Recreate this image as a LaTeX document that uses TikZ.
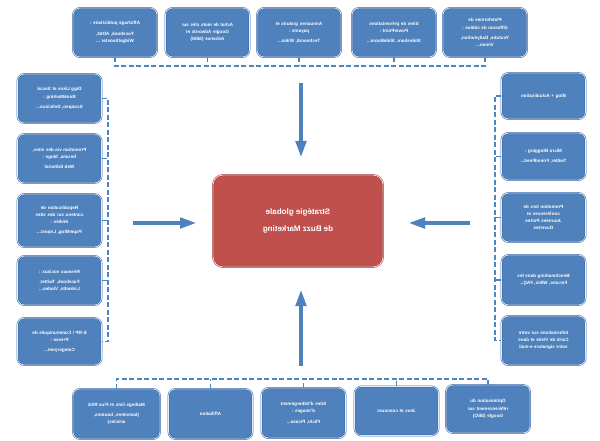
\documentclass[tikz,border=0pt]{standalone}
\usepackage{fontspec}
\setmainfont{Liberation Sans}
\usetikzlibrary{arrows.meta}
\definecolor{boxblue}{HTML}{4F81BD}
\definecolor{boxedge}{HTML}{3A6AA8}
\definecolor{busblue}{HTML}{4A86C0}
\definecolor{redbox}{HTML}{C0504D}
\definecolor{rededge}{HTML}{A8403D}
\tikzset{
  sbox/.style={draw=boxedge, line width=0.5pt, double=white!85!boxblue, double distance=0.7pt,
    fill=boxblue, rounded corners=7pt, minimum width=#1, text width=70pt, align=center,
    text=white, font=\fontsize{4.6}{7.2}\selectfont\bfseries, xscale=-1, inner sep=2pt},
  sbox/.default=84pt,
  bus/.style={draw=busblue, line width=1.1pt, dash pattern=on 5pt off 2.5pt},
  bigarrow/.style={draw=boxblue, line width=4.5pt, -{Triangle[width=10pt,length=17pt]}}
}
\begin{document}
\begin{tikzpicture}[x=1pt,y=-1pt]
\useasboundingbox (0,0) rectangle (600,441);
% top row
\node[sbox, minimum height=49pt] (t1) at (115,32.5) {Affichage publicitaire :\\[3pt]Facebook, AD62,\\Widgetbooster ...};
\node[sbox, minimum height=49pt] (t2) at (207.5,32.5) {Achat de mots clés sur\\Google Adwords et\\Adsense (SEM)};
\node[sbox, minimum height=49pt] (t3) at (299,32.5) {Annuaires gratuits et\\payants :\\[3pt]Technorati, Wikio...};
\node[sbox, minimum height=49pt] (t4) at (394,32.5) {Sites de présentations\\PowerPoint :\\[3pt]Slideshare, SlideBoom...};
\node[sbox, minimum height=49pt] (t5) at (485,32.5) {Plateformes de\\diffusion de vidéos :\\[3pt]Youtube, Dailymotion,\\Vimeo...};
% left column
\node[sbox, minimum height=49pt] (l1) at (59.5,98.5) {Digg Likes et Social\\BookMarking :\\[3pt]Scoopeo, Delicious...};
\node[sbox, minimum height=49pt] (l2) at (59.5,158.5) {Promotion via des sites,\\forums, blogs :\\[3pt]Web Editorial};
\node[sbox, minimum height=53pt] (l3) at (59.5,220.5) {Republication de\\contenu sur des sites\\dédiés :\\[3pt]PaperBlog, Lepost...};
\node[sbox, minimum height=49pt] (l4) at (59.5,280.5) {Réseaux sociaux :\\[3pt]Facebook, Twitter,\\LinkedIn, Viadeo...};
\node[sbox, minimum height=47pt] (l5) at (59.5,341.5) {E-RP / Communiqués de\\Presse :\\[3pt]Categorynet...};
% right column
\node[sbox, minimum height=46pt] (r1) at (543.5,96) {Blog + Actualisation};
\node[sbox, minimum height=47pt] (r2) at (543.5,156.5) {Micro Blogging :\\[3pt]Twitter, FriendFeed...};
\node[sbox, minimum height=49pt] (r3) at (543.5,217.5) {Promotion lors de\\conférences et\\Journées Portes\\Ouvertes};
\node[sbox, minimum height=50pt] (r4) at (543.5,280) {Benchmarking dans les\\Forums, Wikis, FAQ...};
\node[sbox, minimum height=49pt] (r5) at (543.5,340.5) {Informations sur votre\\Carte de Visite et dans\\votre signature e-mail};
% bottom row
\node[sbox=87pt, minimum height=50pt] (b1) at (116.5,414) {Mailings lists et Flux RSS\\[3pt](bannières, boutons,\\articles)};
\node[sbox, minimum height=50pt] (b2) at (210.5,414) {Affiliation};
\node[sbox, minimum height=50pt] (b3) at (303.5,413) {Sites d'hébergement\\d'images :\\[3pt]Flickr, Picasa...};
\node[sbox, minimum height=49pt] (b4) at (396.5,411) {Jeux et concours};
\node[sbox, minimum height=48pt] (b5) at (488,409) {Optimisation du\\référencement sur\\Google (SEO)};
% centre
\node[draw=rededge, line width=0.5pt, double=white!80!redbox, double distance=0.8pt, fill=redbox,
  rounded corners=10pt, minimum width=170pt, minimum height=92pt, align=center, text=white,
  font=\fontsize{8}{17}\selectfont\bfseries, xscale=-1] (c) at (298,221) {Stratégie globale\\de Buzz Marketing};
% buses
\coordinate (topbus) at (0,66);
\coordinate (botbus) at (0,379);
\coordinate (leftbus) at (108,0);
\coordinate (rightbus) at (495,0);
\draw[bus] (t1.south) -- (t1.south |- topbus) -- (t5.south |- topbus) -- (t5.south);
\foreach \n in {t2,t3,t4} \draw[bus] (\n.south) -- (\n.south |- topbus);
\draw[bus] (b1.north) -- (b1.north |- botbus) -- (b5.north |- botbus) -- (b5.north);
\foreach \n in {b2,b3,b4} \draw[bus] (\n.north) -- (\n.north |- botbus);
\draw[bus] (l1.west) -- (l1.west -| leftbus) -- (l5.west -| leftbus) -- (l5.west);
\foreach \n in {l2,l3,l4} \draw[bus] (\n.west) -- (\n.west -| leftbus);
\draw[bus] (r1.east) -- (r1.east -| rightbus) -- (r5.east -| rightbus) -- (r5.east);
\foreach \n in {r2,r3,r4} \draw[bus] (\n.east) -- (\n.east -| rightbus);
% arrows
\coordinate (at) at (301,83);
\coordinate (ab) at (301,366);
\coordinate (al) at (133,223);
\coordinate (ar) at (470,223);
\draw[bigarrow] (at) -- (301,158);
\draw[bigarrow] (ab) -- (301,289);
\draw[bigarrow] (al) -- (197,223);
\draw[bigarrow] (ar) -- (408,223);
\end{tikzpicture}
\end{document}
